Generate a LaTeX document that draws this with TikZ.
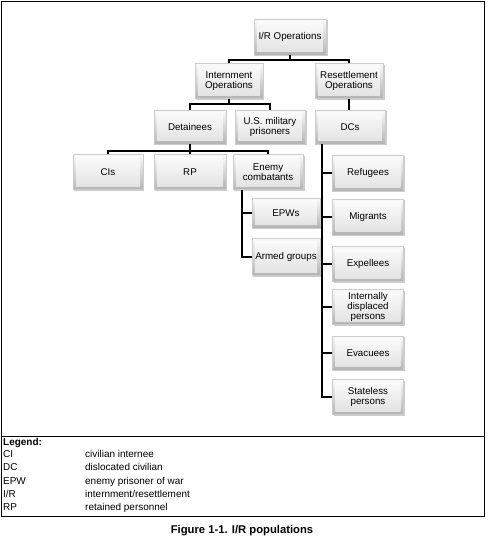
\documentclass[tikz,border=0pt]{standalone}
\usepackage{fontspec}
\setmainfont{Liberation Sans}
\usetikzlibrary{shadows}
\begin{document}
\begin{tikzpicture}[x=1bp,y=-1bp]
\tikzset{
  bx/.style 2 args={rectangle, minimum width=#1bp, minimum height=#2bp, inner sep=1pt,
    align=center, font=\fontsize{9.8}{10.5}\selectfont,
    top color=gray!4, bottom color=gray!60, draw=gray!40, line width=0.3pt,
    drop shadow={shadow xshift=1.5pt, shadow yshift=-1.5pt, opacity=0.4, fill=gray},
    path picture={\shade[top color=gray!2, bottom color=gray!24]
      ([shift={(3pt,-3pt)}]path picture bounding box.north west) rectangle
      ([shift={(-3.2pt,3.4pt)}]path picture bounding box.south east);}},
  conn/.style={line width=1.6bp, black},
  lg/.style={anchor=west, inner sep=0pt, font=\fontsize{10}{11}\selectfont, text height=7pt, text depth=2pt},
}
\useasboundingbox (0,0) rectangle (490,546);
% frame
\draw[line width=0.8bp] (1,1.5) rectangle (484,516);
\draw[line width=0.8bp] (1,436) -- (484,436);

% nodes
\node[bx={72}{36}] (ir) at (290,37) {I/R Operations};
\node[bx={68}{35}] (int) at (229,81) {Internment\\Operations};
\node[bx={68}{35}] (res) at (349,81) {Resettlement\\Operations};
\node[bx={72}{34}] (det) at (190,127) {Detainees};
\node[bx={70}{34}] (usm) at (270,127) {U.S. military\\prisoners};
\node[bx={70}{34}] (dcs) at (350,127) {DCs};
\node[bx={70}{35}] (cis) at (108,172) {CIs};
\node[bx={72}{35}] (rp) at (190,172) {RP};
\node[bx={70}{35}] (enc) at (268,172) {Enemy\\combatants};
\node[bx={68}{30}] (epw) at (286,213) {EPWs};
\node[bx={68}{37}] (arm) at (286,257) {Armed groups};
\node[bx={71}{36}] (ref) at (368,173) {Refugees};
\node[bx={71}{36}] (mig) at (368,217) {Migrants};
\node[bx={71}{35}] (exp) at (368,264) {Expellees};
\node[bx={71}{35}] (idp) at (368,307) {Internally\\displaced\\persons};
\node[bx={71}{34}] (eva) at (368,353) {Evacuees};
\node[bx={71}{35}] (sta) at (368,397) {Stateless\\persons};

% connectors
\draw[conn] (ir.south) -- (ir.south |- 0,60);
\draw[conn] (int.north) -- (int.north |- 0,60) -| (res.north);
\draw[conn] (int.south) -- (int.south |- 0,104);
\draw[conn] (det.north) -- (det.north |- 0,104) -| (usm.north);
\draw[conn] (res.south) -- (res.south |- dcs.north);
\draw[conn] (det.south) -- (det.south |- 0,151);
\draw[conn] (cis.north) -- (cis.north |- 0,151) -| (enc.north);
\draw[conn] (rp.north) -- (rp.north |- 0,151);
\draw[conn] ([xshift=-26bp]enc.south) |- (arm.west);
\draw[conn] ([xshift=-26bp]enc.south |- epw.west) -- (epw.west);
\draw[conn] ([xshift=-28bp]dcs.south) |- (sta.west);
\foreach \n in {ref,mig,exp,idp,eva}
  \draw[conn] ([xshift=-28bp]dcs.south |- \n.west) -- (\n.west);

% legend
\node[lg, font=\bfseries\fontsize{10}{11}\selectfont] (lgh) at (3,443) {Legend:};
\node[lg] (k1) at (3,455) {CI};
\node[lg] (v1) at (85,455) {civilian internee};
\node[lg] (k2) at (3,468) {DC};
\node[lg] (v2) at (85,468) {dislocated civilian};
\node[lg] (k3) at (3,482) {EPW};
\node[lg] (v3) at (85,482) {enemy prisoner of war};
\node[lg] (k4) at (3,495) {I/R};
\node[lg] (v4) at (85,495) {internment/resettlement};
\node[lg] (k5) at (3,508) {RP};
\node[lg] (v5) at (85,508) {retained personnel};

% caption
\node[font=\bfseries\fontsize{11.3}{13}\selectfont, inner sep=0pt] (cap) at (242,531) {Figure 1-1. I/R populations};
\end{tikzpicture}
\end{document}
